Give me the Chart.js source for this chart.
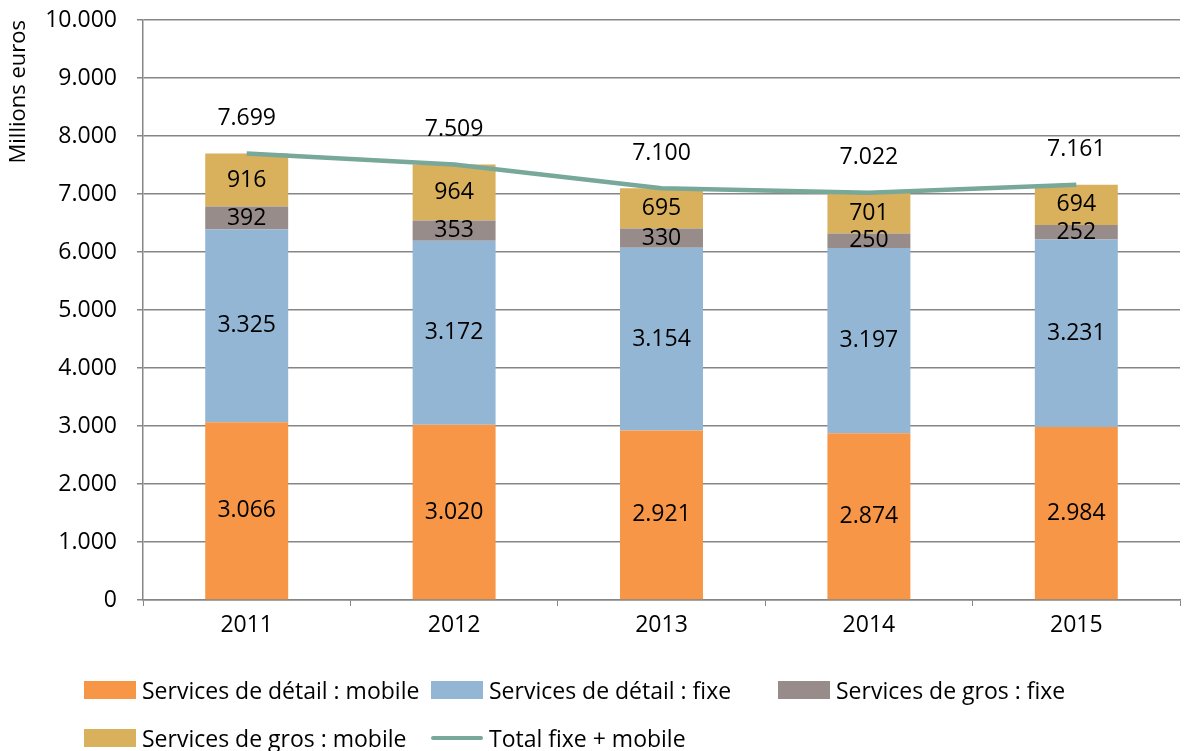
<!DOCTYPE html>
<html>
<head>
<meta charset="utf-8">
<script src="https://cdn.jsdelivr.net/npm/chart.js@4"></script>
<style>
  body { margin: 0; background: #fff; font-family: "Open Sans", sans-serif; overflow: hidden; }
  #wrap { position: relative; width: 1187px; height: 751px; }
  #legend { position: absolute; left: 84px; top: 666px; width: 1100px; font-size: 23px; color: #000; }
  .row { display: flex; height: 48px; align-items: center; }
  .item { display: flex; align-items: center; width: 347px; white-space: nowrap; }
  .box { width: 52px; height: 18px; margin-right: 6px; flex: none; }
  .ln { width: 52px; height: 4px; border-radius: 2px; margin-right: 6px; flex: none; }
</style>
</head>
<body>
<div id="wrap">
  <canvas id="chart" width="1187" height="751"></canvas>
  <div id="legend"></div>
</div>
<script>
// données
const annees = ["2011", "2012", "2013", "2014", "2015"];
const detailMobile = [3066, 3020, 2921, 2874, 2984];
const detailFixe = [3325, 3172, 3154, 3197, 3231];
const grosFixe = [392, 353, 330, 250, 252];
const grosMobile = [916, 964, 695, 701, 694];
const totalFixeMobile = [7699, 7509, 7100, 7022, 7161];

const couleurs = {
    detailMobile: "#F79646",
    detailFixe: "#93B6D4",
    grosFixe: "#988C8A",
    grosMobile: "#D9B05C",
    total: "#77A89A"
};

const police = "Open Sans";

function fmt(n) {
    return n.toString().replace(/\B(?=(\d{3})+(?!\d))/g, ".");
}

// étiquettes de valeurs dans les barres et au-dessus de la courbe
const etiquettes = {
    id: "etiquettes",
    afterDatasetsDraw(chart) {
        const ctx = chart.ctx;
        ctx.save();
        ctx.font = "23px '" + police + "'";
        ctx.fillStyle = "#000";
        ctx.textAlign = "center";
        ctx.textBaseline = "middle";
        chart.data.datasets.forEach((ds, i) => {
            const meta = chart.getDatasetMeta(i);
            meta.data.forEach((el, j) => {
                if (ds.type === "line") {
                    ctx.fillText(fmt(ds.data[j]), el.x, el.y - 35);
                } else {
                    ctx.fillText(fmt(ds.data[j]), el.x, (el.y + el.base) / 2);
                }
            });
        });
        ctx.restore();
    }
};

const barre = (label, data, color) => ({
    label: label,
    data: data,
    backgroundColor: color,
    order: 1,
    barPercentage: 0.4,
    categoryPercentage: 1
});

const ctx = document.getElementById("chart").getContext("2d");
const chart = new Chart(ctx, {
    type: "bar",
    data: {
        labels: annees,
        datasets: [
            barre("Services de détail : mobile", detailMobile, couleurs.detailMobile),
            barre("Services de détail : fixe", detailFixe, couleurs.detailFixe),
            barre("Services de gros : fixe", grosFixe, couleurs.grosFixe),
            barre("Services de gros : mobile", grosMobile, couleurs.grosMobile),
            {
                type: "line",
                label: "Total fixe + mobile",
                data: totalFixeMobile,
                borderColor: couleurs.total,
                backgroundColor: couleurs.total,
                borderWidth: 4.5,
                pointRadius: 0,
                tension: 0,
                order: 0,
                stack: "total"
            }
        ]
    },
    options: {
        responsive: false,
        animation: false,
        layout: { padding: { top: 20, right: 7, bottom: 101, left: 0 } },
        plugins: {
            legend: { display: false },
            tooltip: { enabled: false }
        },
        scales: {
            x: {
                stacked: true,
                afterFit: s => { s.height = 50; s.paddingLeft = 0; s.paddingRight = 0; },
                grid: { drawOnChartArea: false, drawTicks: true, tickLength: 6, color: "#868686" },
                border: { color: "#868686", width: 1.5 },
                ticks: { color: "#000", font: { family: police, size: 23 }, padding: 6 }
            },
            y: {
                stacked: true,
                min: 0,
                max: 10000,
                afterFit: s => { s.width = 143; s.paddingTop = 0; s.paddingBottom = 0; },
                grid: { color: "#868686", lineWidth: 1.5, tickLength: 6 },
                border: { color: "#868686", width: 1.5 },
                ticks: {
                    stepSize: 1000,
                    color: "#000",
                    font: { family: police, size: 23 },
                    padding: 20,
                    callback: v => fmt(v)
                },
                title: {
                    display: true,
                    text: "Millions euros",
                    align: "end",
                    color: "#000",
                    font: { family: police, size: 22 },
                    padding: { top: 6, bottom: 0 }
                }
            }
        }
    },
    plugins: [etiquettes]
});

// légende en deux lignes, comme l'original
const legend = document.getElementById("legend");
const lignes = [[0, 1, 2], [3, 4]];
lignes.forEach(idx => {
    const row = document.createElement("div");
    row.className = "row";
    idx.forEach(i => {
        const ds = chart.data.datasets[i];
        const item = document.createElement("div");
        item.className = "item";
        const mark = document.createElement("span");
        mark.className = ds.type === "line" ? "ln" : "box";
        mark.style.background = ds.type === "line" ? ds.borderColor : ds.backgroundColor;
        item.appendChild(mark);
        item.appendChild(document.createTextNode(ds.label));
        row.appendChild(item);
    });
    legend.appendChild(row);
});
</script>
</body>
</html>
